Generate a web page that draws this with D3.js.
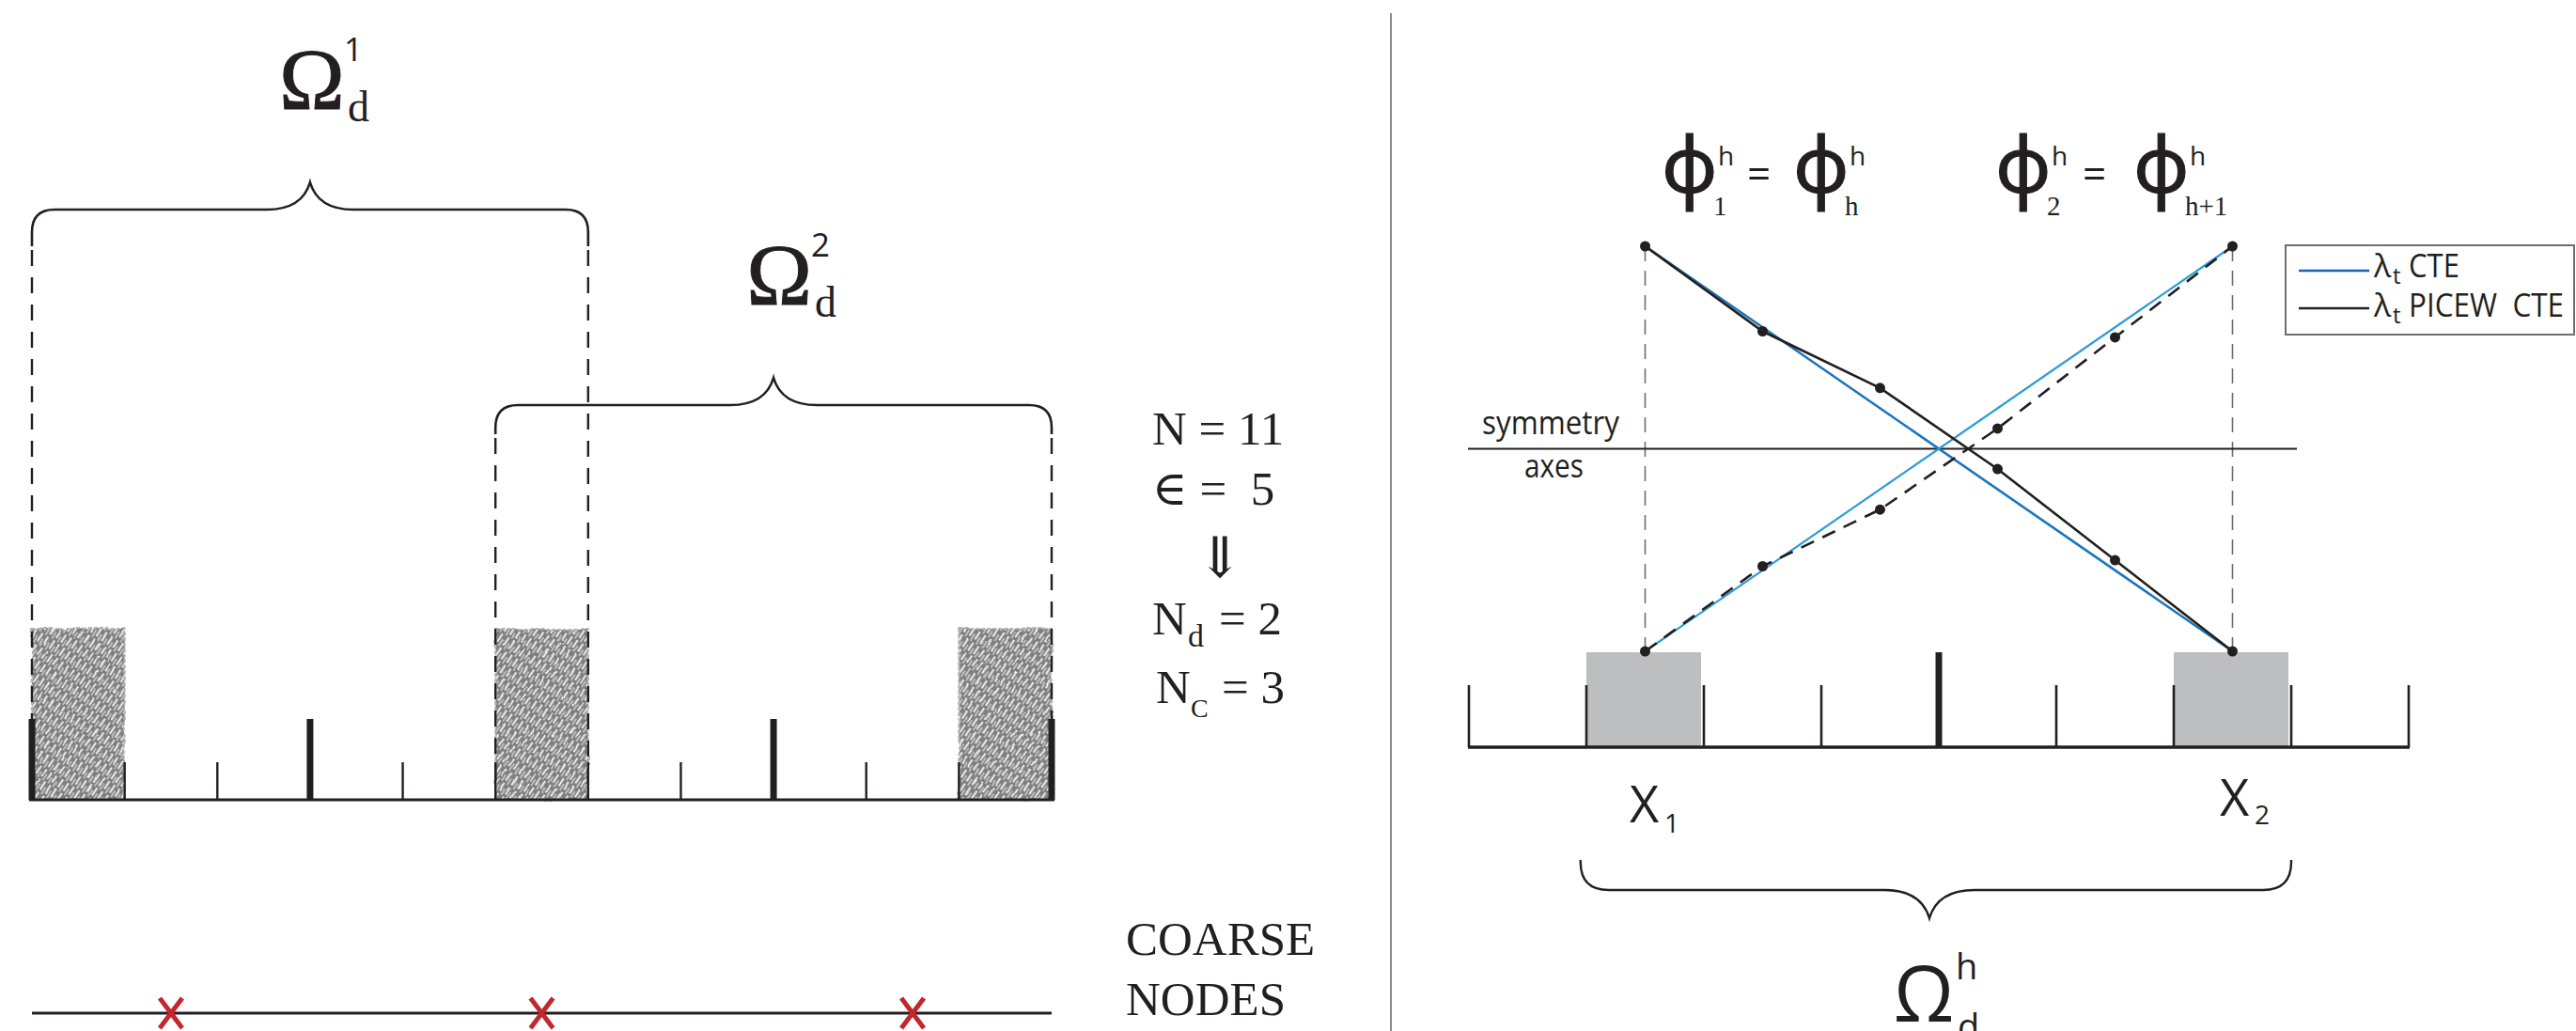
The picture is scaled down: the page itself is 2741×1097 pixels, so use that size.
<!DOCTYPE html>
<html>
<head>
<meta charset="utf-8">
<script src="https://cdn.jsdelivr.net/npm/d3@7"></script>
<style>
  html, body { margin: 0; padding: 0; background: #fff; }
  svg { display: block; }
</style>
</head>
<body>
<svg id="fig" width="2741" height="1097"></svg>
<script>
// ---------- left panel: 1-D mesh, overlapping subdomains, coarse nodes ----------
const meshElements = 11;                       // N
const overlapSize = 5;                         // ∈
const majorTicks = [0, 3, 8, 11];
const minorTicks = [1, 2, 4, 5, 6, 7, 9, 10];
const overlapBlocks = [[0, 1], [5, 6], [10, 11]];
const subdomains = [
  { sup: "1", from: 0, to: 6 },
  { sup: "2", from: 5, to: 11 }
];
const coarseNodes = [1.5, 5.5, 9.5];
const coarseLabel = ["COARSE", "NODES"];

// ---------- right panel: one subdomain, CTE vs piecewise CTE weights ----------
const rightElements = 8;
const rightMajor = [4];
const rightMinor = [0, 1, 2, 3, 5, 6, 7, 8];
const supportBlocks = [[1, 2], [6, 7]];
const nodeX = [1.5, 2.5, 3.5, 4.5, 5.5, 6.5];
const cteDown = [1.0, 0.0];                    // λt CTE, from x1 to x2
const cteUp = [0.0, 1.0];
const picewDown = [1.00, 0.79, 0.65, 0.45, 0.225, 0.00];   // λt PICEW CTE
const picewUp = [0.00, 0.21, 0.35, 0.55, 0.775, 1.00];
const symmetryLevel = 0.5;
const legendItems = [
  { name: "CTE", color: "#1b5fae", len: 54 },
  { name: "PICEW  CTE", color: "#231f20", len: 165 }
];

const INK = "#231f20";
const SERIF = "'Liberation Serif', 'DejaVu Serif', serif";
const SANS = "'Open Sans', 'Noto Sans', sans-serif";

const svg = d3.select("#fig");
const defs = svg.append("defs");

// hand-hatched fill for the overlap blocks
const pat = defs.append("pattern")
  .attr("id", "hatch").attr("patternUnits", "userSpaceOnUse")
  .attr("width", 7).attr("height", 13)
  .attr("patternTransform", "rotate(34)");
pat.append("rect").attr("width", 7).attr("height", 13).attr("fill", "#7e7e7e");
pat.append("line").attr("x1", 1.5).attr("x2", 1.5).attr("y1", 0).attr("y2", 10)
  .attr("stroke", "#fff").attr("stroke-width", 1.8);
pat.append("line").attr("x1", 5).attr("x2", 5).attr("y1", 5).attr("y2", 13)
  .attr("stroke", "#f2f2f2").attr("stroke-width", 1.1);
const rough = defs.append("filter").attr("id", "rough")
  .attr("x", "-5%").attr("y", "-5%").attr("width", "110%").attr("height", "110%");
rough.append("feTurbulence").attr("type", "fractalNoise")
  .attr("baseFrequency", 0.04).attr("numOctaves", 2).attr("seed", 3).attr("result", "n");
rough.append("feDisplacementMap").attr("in", "SourceGraphic").attr("in2", "n")
  .attr("scale", 3.5).attr("xChannelSelector", "R").attr("yChannelSelector", "G");

// curly brace between x0 and x1, tip at (xm, yTip), ends reaching yEnd
function bracePath(x0, x1, xm, yEnd, yBar, yTip, r, w) {
  const h = yBar - yTip;
  const s = Math.sign(yEnd - yBar);
  return [
    `M${x0},${yEnd}`, `L${x0},${yBar + s * r}`,
    `Q${x0},${yBar} ${x0 + r},${yBar}`,
    `L${xm - w},${yBar}`,
    `C${xm - w * 0.45},${yBar} ${xm - w * 0.12},${yBar - h * 0.35} ${xm},${yTip}`,
    `C${xm + w * 0.12},${yBar - h * 0.35} ${xm + w * 0.45},${yBar} ${xm + w},${yBar}`,
    `L${x1 - r},${yBar}`,
    `Q${x1},${yBar} ${x1},${yBar + s * r}`,
    `L${x1},${yEnd}`
  ].join(" ");
}

// ================= LEFT PANEL =================
const xL = d3.scaleLinear().domain([0, meshElements]).range([34, 1119]);
const baseL = 851, blockTop = 669, majorTop = 765, minorTop = 811;

const L = svg.append("g");

// overlap blocks
const blocks = L.append("g").attr("filter", "url(#rough)");
blocks.selectAll("rect").data(overlapBlocks).join("rect")
  .attr("x", d => xL(d[0])).attr("y", blockTop)
  .attr("width", d => xL(d[1]) - xL(d[0])).attr("height", baseL - blockTop)
  .attr("fill", "url(#hatch)")
  .attr("stroke", "#b3b3b3").attr("stroke-width", 2.2).attr("stroke-dasharray", "4,2");

// mesh ticks
L.selectAll("line.minor").data(minorTicks).join("line")
  .attr("x1", d => xL(d)).attr("x2", d => xL(d))
  .attr("y1", minorTop).attr("y2", baseL)
  .attr("stroke", INK).attr("stroke-width", 2.4);
L.selectAll("line.major").data(majorTicks).join("line")
  .attr("x1", d => xL(d)).attr("x2", d => xL(d))
  .attr("y1", majorTop).attr("y2", baseL)
  .attr("stroke", INK).attr("stroke-width", 7);
L.append("line").attr("x1", xL(0) - 3).attr("x2", xL(meshElements) + 3)
  .attr("y1", baseL).attr("y2", baseL).attr("stroke", INK).attr("stroke-width", 3.2);

// subdomain braces with their dashed extents
const braceGeom = [
  { bar: 223, tip: 194, end: 262 },
  { bar: 431, tip: 402, end: 462 }
];
subdomains.forEach((sd, i) => {
  const g = braceGeom[i];
  const x0 = xL(sd.from), x1 = xL(sd.to), xm = (x0 + x1) / 2;
  L.append("path").attr("d", bracePath(x0, x1, xm, g.end, g.bar, g.tip, 24, 46))
    .attr("fill", "none").attr("stroke", INK).attr("stroke-width", 2.6);
  [x0, x1].forEach(x => {
    L.append("line").attr("x1", x).attr("x2", x)
      .attr("y1", g.end + 4).attr("y2", baseL)
      .attr("stroke", INK).attr("stroke-width", 2.4).attr("stroke-dasharray", "17,12");
  });
  const t = L.append("g");
  const cx = xm + 2 + i * 4, by = g.tip - 78;
  t.append("text").attr("x", cx).attr("y", by).attr("text-anchor", "middle")
    .attr("font-family", SERIF).attr("font-size", 94).attr("fill", INK)
    .attr("stroke", INK).attr("stroke-width", 1).text("Ω");
  t.append("text").attr("x", cx + 34).attr("y", by - 51)
    .attr("font-family", SANS).attr("font-size", 35).attr("fill", INK).text(sd.sup);
  t.append("text").attr("x", cx + 38).attr("y", by + 13)
    .attr("font-family", SERIF).attr("font-size", 46).attr("fill", INK).text("d");
});

// parameter summary
const S = L.append("g").attr("font-family", SERIF).attr("fill", INK);
S.append("text").attr("x", 1226).attr("y", 473).attr("font-size", 51).text("N = 11");
S.append("text").attr("x", 1226).attr("y", 537).attr("font-size", 51)
  .attr("xml:space", "preserve").text("\u2208 =  " + overlapSize);
S.append("text").attr("x", 1298).attr("y", 614).attr("text-anchor", "middle")
  .attr("font-family", SERIF).attr("font-size", 60).text("\u21D3");
S.append("text").attr("x", 1226).attr("y", 675).attr("font-size", 51).text("N");
S.append("text").attr("x", 1264).attr("y", 688).attr("font-size", 34).text("d");
S.append("text").attr("x", 1297).attr("y", 675).attr("font-size", 51).text("= " + subdomains.length);
S.append("text").attr("x", 1230).attr("y", 748).attr("font-size", 51).text("N");
S.append("text").attr("x", 1267).attr("y", 763).attr("font-size", 28).text("C");
S.append("text").attr("x", 1300).attr("y", 748).attr("font-size", 51).text("= " + coarseNodes.length);

// coarse nodes
const yC = 1078;
L.append("line").attr("x1", xL(0)).attr("x2", xL(meshElements))
  .attr("y1", yC).attr("y2", yC).attr("stroke", INK).attr("stroke-width", 3);
const cross = L.selectAll("g.node").data(coarseNodes).join("g")
  .attr("transform", d => `translate(${xL(d)},${yC})`)
  .attr("stroke", "#c1272d").attr("stroke-width", 5);
cross.append("line").attr("x1", -12).attr("y1", -16).attr("x2", 12).attr("y2", 16);
cross.append("line").attr("x1", 12).attr("y1", -16).attr("x2", -12).attr("y2", 16);
L.selectAll("text.coarse").data(coarseLabel).join("text")
  .attr("x", 1198).attr("y", (d, i) => 1016 + i * 64)
  .attr("font-family", SERIF).attr("font-size", 51).attr("fill", INK).text(d => d);

// panel separator
svg.append("line").attr("x1", 1480).attr("x2", 1480).attr("y1", 14).attr("y2", 1097)
  .attr("stroke", "#8a8a8a").attr("stroke-width", 2);

// ================= RIGHT PANEL =================
const xR = d3.scaleLinear().domain([0, rightElements]).range([1563, 2563]);
const yR = d3.scaleLinear().domain([0, 1]).range([693, 262]);
const baseR = 795, rMinorTop = 729, rMajorTop = 694;
const R = svg.append("g");

R.selectAll("rect.support").data(supportBlocks).join("rect")
  .attr("x", d => xR(d[0])).attr("y", yR(0) + 1)
  .attr("width", d => xR(d[1]) - xR(d[0]) - 3).attr("height", baseR - yR(0) - 1)
  .attr("fill", "#bcbec0");
R.selectAll("line.rminor").data(rightMinor).join("line")
  .attr("x1", d => xR(d)).attr("x2", d => xR(d))
  .attr("y1", rMinorTop).attr("y2", baseR)
  .attr("stroke", INK).attr("stroke-width", 2.6);
R.selectAll("line.rmajor").data(rightMajor).join("line")
  .attr("x1", d => xR(d)).attr("x2", d => xR(d))
  .attr("y1", rMajorTop).attr("y2", baseR)
  .attr("stroke", INK).attr("stroke-width", 7);
R.append("line").attr("x1", xR(0) - 1).attr("x2", xR(rightElements) + 1)
  .attr("y1", baseR).attr("y2", baseR).attr("stroke", INK).attr("stroke-width", 3.4);

// dashed guides above the two support nodes
[nodeX[0], nodeX[nodeX.length - 1]].forEach(n => {
  R.append("line").attr("x1", xR(n)).attr("x2", xR(n))
    .attr("y1", yR(1)).attr("y2", yR(0))
    .attr("stroke", "#6d6e71").attr("stroke-width", 1.6).attr("stroke-dasharray", "16,10");
});

// symmetry axis
R.append("line").attr("x1", 1562).attr("x2", 2444)
  .attr("y1", yR(symmetryLevel)).attr("y2", yR(symmetryLevel))
  .attr("stroke", INK).attr("stroke-width", 1.8);
R.append("text").attr("x", 1577).attr("y", 462).attr("font-family", SANS)
  .attr("font-size", 34).attr("fill", INK)
  .attr("textLength", 146).attr("lengthAdjust", "spacingAndGlyphs").text("symmetry");
R.append("text").attr("x", 1622).attr("y", 508).attr("font-family", SANS)
  .attr("font-size", 34).attr("fill", INK)
  .attr("textLength", 63).attr("lengthAdjust", "spacingAndGlyphs").text("axes");

// λt CTE: straight lines between the two support nodes
const ends = [nodeX[0], nodeX[nodeX.length - 1]];
const line = d3.line().x(d => xR(d[0])).y(d => yR(d[1]));
R.append("path").attr("d", line(d3.zip(ends, cteDown)))
  .attr("fill", "none").attr("stroke", "#1b75bc").attr("stroke-width", 2.6);
R.append("path").attr("d", line(d3.zip(ends, cteUp)))
  .attr("fill", "none").attr("stroke", "#2a9bd8").attr("stroke-width", 2.2);

// λt PICEW CTE: piecewise lines through the element midpoints
R.append("path").attr("d", line(d3.zip(nodeX, picewDown)))
  .attr("fill", "none").attr("stroke", INK).attr("stroke-width", 2.6);
R.append("path").attr("d", line(d3.zip(nodeX, picewUp)))
  .attr("fill", "none").attr("stroke", INK).attr("stroke-width", 2.6)
  .attr("stroke-dasharray", "15,10");
R.selectAll("circle.down").data(d3.zip(nodeX, picewDown)).join("circle")
  .attr("cx", d => xR(d[0])).attr("cy", d => yR(d[1])).attr("r", 5.5).attr("fill", INK);
R.selectAll("circle.up").data(d3.zip(nodeX, picewUp)).join("circle")
  .attr("cx", d => xR(d[0])).attr("cy", d => yR(d[1])).attr("r", 5.5).attr("fill", INK);

// basis function labels: ϕ with superscript h and a serif subscript
function phiLabel(x, sub) {
  const g = R.append("g").attr("fill", INK);
  g.append("text").attr("x", x - 2).attr("y", 205).attr("font-family", SANS)
    .attr("font-size", 82).attr("stroke", INK).attr("stroke-width", 1.2).text("\u03D5");
  g.append("text").attr("x", x + 58).attr("y", 176).attr("font-family", SANS)
    .attr("font-size", 28).text("h");
  g.append("text").attr("x", x + 53).attr("y", 229).attr("font-family", SERIF)
    .attr("font-size", 29).text(sub);
}
phiLabel(1770, "1");
R.append("text").attr("x", 1859).attr("y", 201).attr("font-family", SANS)
  .attr("font-size", 44).attr("fill", INK).text("=");
phiLabel(1910, "h");
phiLabel(2125, "2");
R.append("text").attr("x", 2216).attr("y", 201).attr("font-family", SANS)
  .attr("font-size", 44).attr("fill", INK).text("=");
phiLabel(2272, "h+1");

// node labels
[[1734, 875, "1", 886], [2362, 868, "2", 877]].forEach(([x, y, s, sy]) => {
  R.append("text").attr("x", x).attr("y", y).attr("font-family", SANS)
    .attr("font-size", 54).attr("fill", INK).text("X");
  R.append("text").attr("x", x + 37).attr("y", sy).attr("font-family", SANS)
    .attr("font-size", 28).attr("fill", INK).text(s);
});

// subdomain brace and label
R.append("path").attr("d", bracePath(xR(0.95), xR(7.0), xR(3.92), 915, 947, 977, 30, 48))
  .attr("fill", "none").attr("stroke", INK).attr("stroke-width", 2.4);
R.append("text").attr("x", 2047).attr("y", 1087).attr("text-anchor", "middle")
  .attr("font-family", SANS).attr("font-size", 82).attr("fill", INK).text("Ω");
R.append("text").attr("x", 2081).attr("y", 1042).attr("font-family", SANS)
  .attr("font-size", 38).attr("fill", INK).text("h");
R.append("text").attr("x", 2083).attr("y", 1106).attr("font-family", SANS)
  .attr("font-size", 38).attr("fill", INK).text("d");

// legend
const lg = R.append("g");
lg.append("rect").attr("x", 2432).attr("y", 261).attr("width", 307).attr("height", 95)
  .attr("fill", "#fff").attr("stroke", "#6d6e71").attr("stroke-width", 2);
legendItems.forEach((it, i) => {
  const y = 288 + i * 40;
  lg.append("line").attr("x1", 2446).attr("x2", 2521).attr("y1", y).attr("y2", y)
    .attr("stroke", it.color).attr("stroke-width", 2.4);
  const base = y + 7 + i * 2;
  lg.append("text").attr("x", 2526).attr("y", base)
    .attr("font-family", SANS).attr("font-size", 34).attr("fill", INK).text("λ");
  lg.append("text").attr("x", 2546).attr("y", base + 7)
    .attr("font-family", SANS).attr("font-size", 24).attr("fill", INK).text("t");
  lg.append("text").attr("x", 2563).attr("y", base)
    .attr("font-family", SANS).attr("font-size", 34).attr("fill", INK)
    .attr("xml:space", "preserve")
    .attr("textLength", it.len).attr("lengthAdjust", "spacingAndGlyphs")
    .text(it.name);
});
</script>
</body>
</html>
